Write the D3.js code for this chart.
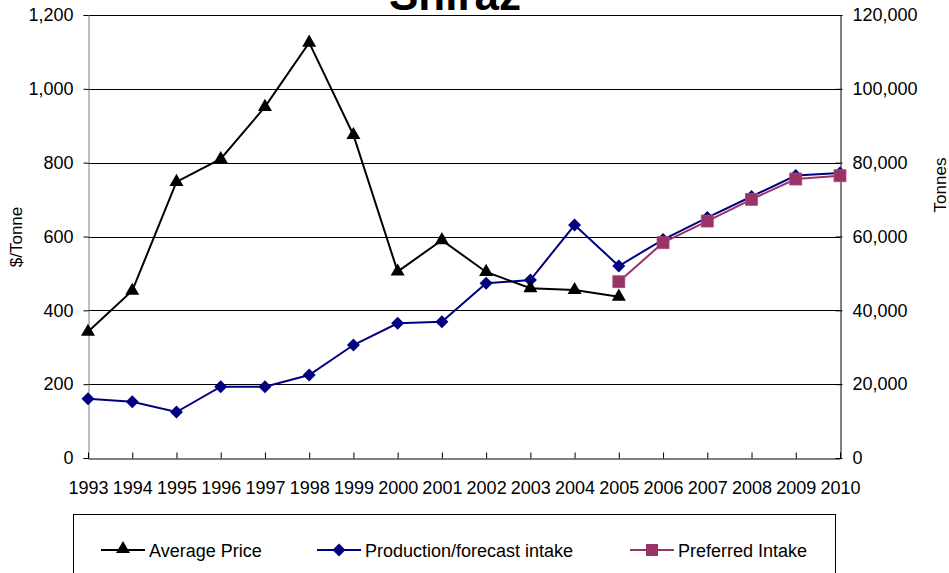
<!DOCTYPE html>
<html>
<head>
<meta charset="utf-8">
<script src="https://cdn.jsdelivr.net/npm/d3@7"></script>
<style>
  html, body { margin: 0; padding: 0; background: #fff; }
  svg { display: block; font-family: "Liberation Sans", Arial, sans-serif; }
</style>
</head>
<body>
<svg id="chart" width="949" height="573"></svg>
<script>
// Shiraz: average price ($/tonne, left axis) and intake (tonnes, right axis)
const years = ["1993","1994","1995","1996","1997","1998","1999","2000","2001",
               "2002","2003","2004","2005","2006","2007","2008","2009","2010"];

const priceYears = years.slice(0, 13);
const averagePrice = [342, 453, 748, 810, 951, 1125, 875, 505, 590, 504, 460, 455, 437];

const productionIntake = [16060, 15250, 12460, 19310, 19310, 22480, 30610, 36480, 36920,
                          47320, 48210, 63110, 52000, 59180, 65140, 70830, 76520, 77190];

const preferredYears = years.slice(12);
const preferredIntake = [47750, 58320, 64190, 70070, 75570, 76460];

const leftTicks = [0, 200, 400, 600, 800, 1000, 1200];
const rightTicks = [0, 20000, 40000, 60000, 80000, 100000, 120000];

const svg = d3.select("#chart");
const plot = { left: 88, right: 840, top: 15, bottom: 458 };
const FS = 18;

const x = d3.scalePoint().domain(years).range([plot.left, plot.right]).padding(0);
const yL = d3.scaleLinear().domain([0, 1200]).range([plot.bottom, plot.top]);
const yR = d3.scaleLinear().domain([0, 120000]).range([plot.bottom, plot.top]);
const fmt = d3.format(",");

// horizontal gridlines
svg.append("g")
  .selectAll("line")
  .data(leftTicks.slice(1))
  .join("line")
  .attr("x1", plot.left).attr("x2", plot.right)
  .attr("y1", d => Math.round(yL(d)) + 0.5).attr("y2", d => Math.round(yL(d)) + 0.5)
  .attr("stroke", "#000").attr("stroke-width", 1);

// left axis
const gL = svg.append("g")
  .attr("transform", `translate(${plot.left + 0.5},0)`)
  .call(d3.axisLeft(yL).tickValues(leftTicks).tickFormat(fmt).tickSize(5).tickPadding(10));
gL.select(".domain").attr("stroke", "#808080");
gL.selectAll(".tick line").attr("stroke", "#000");
gL.selectAll(".tick text").attr("font-size", FS).attr("fill", "#000")
  .attr("font-family", "'Liberation Sans', Arial, sans-serif");

// right axis (ticks cross the line)
const gR = svg.append("g")
  .attr("transform", `translate(${plot.right + 0.5},0)`)
  .call(d3.axisRight(yR).tickValues(rightTicks).tickFormat(fmt).tickSizeInner(2).tickSizeOuter(0).tickPadding(10));
gR.select(".domain").attr("stroke", "#000");
gR.selectAll(".tick line").attr("x1", -5).attr("x2", 2).attr("stroke", "#000");
gR.selectAll(".tick text").attr("font-size", FS).attr("fill", "#000")
  .attr("font-family", "'Liberation Sans', Arial, sans-serif");

// bottom axis, ticks pointing inward
const gB = svg.append("g")
  .attr("transform", `translate(0,${plot.bottom + 0.5})`)
  .call(d3.axisBottom(x).tickSizeInner(-6).tickSizeOuter(0).tickPadding(0));
gB.select(".domain").attr("stroke", "#000");
gB.selectAll(".tick line").attr("stroke", "#000");
gB.selectAll(".tick text").attr("font-size", FS).attr("fill", "#000")
  .attr("font-family", "'Liberation Sans', Arial, sans-serif")
  .attr("dy", null).attr("y", 35.5);

// axis titles
svg.append("text")
  .attr("transform", "translate(22,237) rotate(-90)")
  .attr("text-anchor", "middle").attr("font-size", 17).text("$/Tonne");
svg.append("text")
  .attr("transform", "translate(946,185) rotate(-90)")
  .attr("text-anchor", "middle").attr("font-size", 17).text("Tonnes");

// chart title
svg.append("text")
  .attr("x", 455).attr("y", 9.5)
  .attr("text-anchor", "middle").attr("font-size", 44).attr("font-weight", "bold")
  .text("Shiraz");

// series markers
const triangle = d3.symbol().type(d3.symbolTriangle).size(85);
const diamondPath = "M0,-6.5L6.5,0L0,6.5L-6.5,0Z";

const lineL = d3.line().x(d => x(d[0])).y(d => yL(d[1]));
const lineR = d3.line().x(d => x(d[0])).y(d => yR(d[1]));

const priceData = priceYears.map((yr, i) => [yr, averagePrice[i]]);
const prodData = years.map((yr, i) => [yr, productionIntake[i]]);
const prefData = preferredYears.map((yr, i) => [yr, preferredIntake[i]]);

// production/forecast intake
svg.append("path").datum(prodData)
  .attr("d", lineR).attr("fill", "none").attr("stroke", "#000080").attr("stroke-width", 2);
svg.append("g").selectAll("path").data(prodData).join("path")
  .attr("d", diamondPath).attr("transform", d => `translate(${x(d[0])},${yR(d[1])})`)
  .attr("fill", "#000080");

// preferred intake
svg.append("path").datum(prefData)
  .attr("d", lineR).attr("fill", "none").attr("stroke", "#993366").attr("stroke-width", 2);
svg.append("g").selectAll("rect").data(prefData).join("rect")
  .attr("x", d => x(d[0]) - 6).attr("y", d => yR(d[1]) - 6)
  .attr("width", 12).attr("height", 12)
  .attr("fill", "#993366").attr("stroke", "#b04a7e").attr("stroke-width", 0.8);

// average price
svg.append("path").datum(priceData)
  .attr("d", lineL).attr("fill", "none").attr("stroke", "#000").attr("stroke-width", 2);
svg.append("g").selectAll("path").data(priceData).join("path")
  .attr("d", triangle).attr("transform", d => `translate(${x(d[0])},${yL(d[1])})`)
  .attr("fill", "#000");

// legend
const legend = svg.append("g");
legend.append("rect")
  .attr("x", 73.5).attr("y", 514.5).attr("width", 762).attr("height", 80)
  .attr("fill", "#fff").attr("stroke", "#000").attr("stroke-width", 1);

const legendItems = [
  { label: "Average Price", color: "#000", x0: 101, mark: "tri" },
  { label: "Production/forecast intake", color: "#000080", x0: 317, mark: "dia" },
  { label: "Preferred Intake", color: "#993366", x0: 630, mark: "sq" }
];
const ly = 550;
legendItems.forEach(it => {
  const g = legend.append("g");
  g.append("line").attr("x1", it.x0).attr("x2", it.x0 + 44)
    .attr("y1", ly).attr("y2", ly).attr("stroke", it.color).attr("stroke-width", 2);
  const cx = it.x0 + 22;
  if (it.mark === "tri") {
    g.append("path").attr("d", triangle).attr("transform", `translate(${cx},${ly - 1})`).attr("fill", it.color);
  } else if (it.mark === "dia") {
    g.append("path").attr("d", diamondPath).attr("transform", `translate(${cx},${ly})`).attr("fill", it.color);
  } else {
    g.append("rect").attr("x", cx - 6).attr("y", ly - 6).attr("width", 12).attr("height", 12)
      .attr("fill", it.color);
  }
  g.append("text").attr("x", it.x0 + 48).attr("y", ly + 6.5)
    .attr("font-size", FS).text(it.label);
});
</script>
</body>
</html>
